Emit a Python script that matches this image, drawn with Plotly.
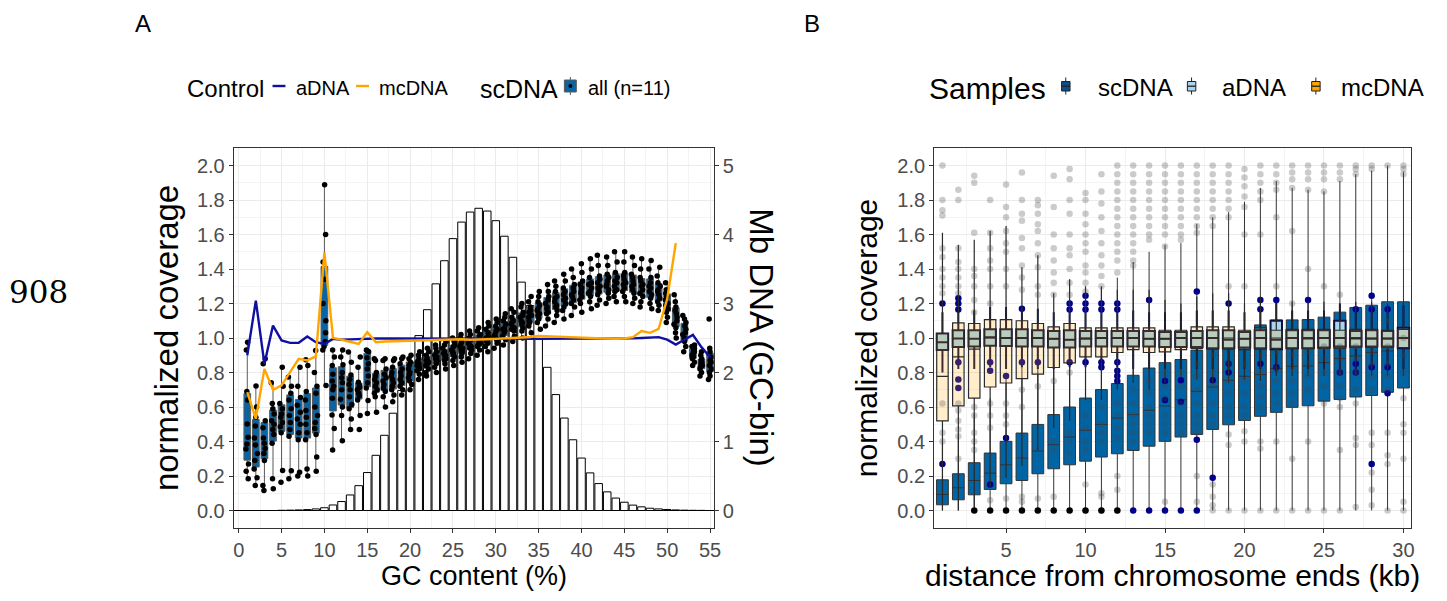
import plotly.graph_objects as go

# page body has an 8px margin; the figure is sized to fit the 1447x601 window
OX, OY = 8, 8
W, H = 1447 - 2 * OX, 601 - 2 * OY

# ---------------- Panel A data ----------------
gc_bins = list(range(1, 56))
hist_mb = [0, 0, 0, 0, 0.003, 0.005, 0.008, 0.013, 0.023, 0.04,
           0.08, 0.13, 0.225, 0.36, 0.55, 0.8, 1.09, 1.41, 1.74, 2.15,
           2.535, 2.91, 3.285, 3.62, 3.94, 4.18, 4.325, 4.38, 4.34, 4.2,
           3.975, 3.67, 3.31, 2.97, 2.49, 2.075, 1.68, 1.34, 1.025, 0.76,
           0.545, 0.39, 0.27, 0.18, 0.12, 0.078, 0.053, 0.033, 0.023, 0.015,
           0.008, 0.005, 0.003, 0.002, 0.0]
adna_gc = [0.9, 1.217, 0.85, 1.072, 0.986, 0.972, 0.972, 1.009, 0.976, 0.966,
           0.995, 0.99, 0.992, 0.995, 0.997, 0.997, 0.998, 0.998, 0.997, 0.996,
           0.996, 0.997, 0.998, 0.998, 0.997, 0.996, 0.997, 0.998, 0.999, 1.0,
           1.0, 0.999, 0.998, 0.996, 0.995, 0.995, 0.994, 0.994, 0.995, 0.996,
           0.997, 0.998, 0.997, 0.996, 0.996, 0.998, 1.0, 1.004, 1.005, 0.99,
           0.962, 0.99, 1.018, 0.947, 0.889]
mcdna_gc_bins = list(range(1, 52))
mcdna_gc = [0.686, 0.531, 0.821, 0.70, 0.725, 0.80, 0.879, 0.87, 0.893, 1.497,
            1.001, 0.99, 0.98, 0.966, 1.034, 0.976, 0.98, 0.982, 0.985, 0.985,
            0.986, 0.987, 0.988, 0.99, 0.99, 0.993, 0.99, 0.99, 0.993, 0.995,
            0.997, 1.0, 1.002, 1.006, 1.012, 1.01, 1.008, 1.006, 1.005, 1.005,
            1.003, 1.0, 0.997, 0.995, 0.998, 1.005, 1.04, 1.03, 1.053, 1.227,
            1.55]
sc_gc = [
    [0.184, 0.228, 0.27, 0.357, 0.386, 0.425, 0.502, 0.64, 0.69, 0.93, 0.976],
    [0.145, 0.19, 0.24, 0.29, 0.33, 0.38, 0.42, 0.49, 0.54, 0.6, 0.722],
    [0.116, 0.145, 0.29, 0.33, 0.36, 0.39, 0.42, 0.48, 0.52, 0.85, 0.879],
    [0.126, 0.184, 0.39, 0.44, 0.47, 0.5, 0.52, 0.56, 0.59, 0.62, 0.74],
    [0.164, 0.232, 0.45, 0.485, 0.51, 0.54, 0.56, 0.59, 0.62, 0.72, 0.83],
    [0.184, 0.23, 0.43, 0.47, 0.51, 0.55, 0.59, 0.64, 0.68, 0.72, 0.774],
    [0.2, 0.222, 0.41, 0.45, 0.5, 0.53, 0.57, 0.61, 0.655, 0.72, 0.83],
    [0.2, 0.24, 0.41, 0.45, 0.5, 0.54, 0.58, 0.64, 0.69, 0.84, 0.874],
    [0.228, 0.31, 0.44, 0.475, 0.51, 0.55, 0.6, 0.68, 0.72, 0.8, 0.928],
    [0.725, 0.93, 0.95, 0.98, 1.03, 1.1, 1.2, 1.34, 1.44, 1.6, 1.888],
    [0.35, 0.476, 0.553, 0.65, 0.7, 0.72, 0.75, 0.79, 0.84, 0.89, 0.93],
    [0.405, 0.55, 0.6, 0.645, 0.7, 0.74, 0.77, 0.8, 0.845, 0.89, 0.93],
    [0.47, 0.53, 0.59, 0.615, 0.66, 0.7, 0.73, 0.76, 0.785, 0.86, 0.919],
    [0.47, 0.55, 0.64, 0.665, 0.68, 0.7, 0.715, 0.725, 0.743, 0.83, 0.89],
    [0.563, 0.637, 0.71, 0.74, 0.78, 0.82, 0.85, 0.885, 0.92, 0.925, 0.93],
    [0.57, 0.66, 0.68, 0.7, 0.72, 0.74, 0.76, 0.78, 0.8, 0.87, 0.88],
    [0.6, 0.66, 0.69, 0.71, 0.73, 0.75, 0.77, 0.79, 0.82, 0.87, 0.88],
    [0.63, 0.67, 0.7, 0.72, 0.74, 0.76, 0.78, 0.8, 0.83, 0.87, 0.88],
    [0.67, 0.7, 0.72, 0.74, 0.76, 0.78, 0.8, 0.82, 0.85, 0.88, 0.89],
    [0.7, 0.73, 0.75, 0.77, 0.79, 0.8, 0.82, 0.84, 0.86, 0.88, 0.9],
    [0.76, 0.79, 0.81, 0.82, 0.83, 0.84, 0.85, 0.86, 0.88, 0.9, 0.92],
    [0.78, 0.8, 0.82, 0.84, 0.85, 0.86, 0.87, 0.88, 0.9, 0.92, 0.94],
    [0.8, 0.83, 0.85, 0.86, 0.87, 0.88, 0.89, 0.9, 0.92, 0.94, 0.96],
    [0.82, 0.85, 0.87, 0.88, 0.89, 0.9, 0.91, 0.92, 0.94, 0.96, 0.98],
    [0.84, 0.87, 0.89, 0.9, 0.91, 0.92, 0.93, 0.95, 0.96, 0.98, 1.0],
    [0.86, 0.89, 0.91, 0.92, 0.93, 0.94, 0.95, 0.97, 0.98, 1.0, 1.02],
    [0.88, 0.91, 0.93, 0.94, 0.95, 0.96, 0.97, 0.99, 1.0, 1.02, 1.04],
    [0.9, 0.93, 0.95, 0.96, 0.97, 0.98, 0.99, 1.01, 1.02, 1.04, 1.06],
    [0.92, 0.95, 0.97, 0.98, 0.99, 1.0, 1.01, 1.03, 1.05, 1.07, 1.09],
    [0.94, 0.97, 0.99, 1.0, 1.01, 1.02, 1.04, 1.05, 1.07, 1.09, 1.11],
    [0.96, 0.99, 1.01, 1.03, 1.04, 1.05, 1.06, 1.08, 1.1, 1.12, 1.14],
    [0.98, 1.01, 1.04, 1.05, 1.06, 1.08, 1.09, 1.1, 1.12, 1.15, 1.17],
    [1.0, 1.04, 1.06, 1.08, 1.09, 1.1, 1.12, 1.13, 1.15, 1.18, 1.2],
    [1.03, 1.07, 1.09, 1.1, 1.12, 1.13, 1.15, 1.16, 1.18, 1.21, 1.24],
    [1.05, 1.09, 1.11, 1.13, 1.14, 1.16, 1.17, 1.19, 1.21, 1.24, 1.27],
    [1.07, 1.11, 1.14, 1.15, 1.17, 1.18, 1.2, 1.22, 1.24, 1.27, 1.31],
    [1.09, 1.13, 1.16, 1.18, 1.19, 1.21, 1.23, 1.24, 1.27, 1.3, 1.33],
    [1.11, 1.16, 1.18, 1.2, 1.22, 1.23, 1.25, 1.27, 1.29, 1.33, 1.37],
    [1.13, 1.18, 1.2, 1.22, 1.24, 1.25, 1.27, 1.29, 1.31, 1.35, 1.4],
    [1.15, 1.2, 1.22, 1.24, 1.26, 1.27, 1.29, 1.31, 1.33, 1.38, 1.43],
    [1.17, 1.21, 1.24, 1.26, 1.27, 1.29, 1.31, 1.32, 1.35, 1.4, 1.46],
    [1.19, 1.22, 1.25, 1.27, 1.29, 1.3, 1.32, 1.34, 1.36, 1.42, 1.48],
    [1.2, 1.23, 1.26, 1.28, 1.3, 1.31, 1.33, 1.35, 1.37, 1.42, 1.47],
    [1.21, 1.24, 1.27, 1.28, 1.3, 1.32, 1.33, 1.35, 1.38, 1.44, 1.5],
    [1.21, 1.24, 1.27, 1.29, 1.31, 1.32, 1.34, 1.36, 1.38, 1.44, 1.5],
    [1.2, 1.23, 1.26, 1.28, 1.3, 1.31, 1.33, 1.35, 1.37, 1.42, 1.47],
    [1.18, 1.21, 1.24, 1.26, 1.28, 1.3, 1.31, 1.33, 1.35, 1.4, 1.46],
    [1.17, 1.2, 1.23, 1.25, 1.27, 1.29, 1.3, 1.32, 1.35, 1.4, 1.45],
    [1.16, 1.19, 1.21, 1.23, 1.25, 1.27, 1.28, 1.3, 1.32, 1.36, 1.41],
    [1.09, 1.12, 1.15, 1.17, 1.19, 1.2, 1.22, 1.24, 1.26, 1.28, 1.32],
    [1.0, 1.03, 1.06, 1.08, 1.1, 1.12, 1.14, 1.16, 1.18, 1.21, 1.25],
    [0.92, 0.95, 0.98, 1.0, 1.02, 1.03, 1.05, 1.07, 1.09, 1.11, 1.13],
    [0.84, 0.86, 0.88, 0.89, 0.9, 0.91, 0.92, 0.93, 0.94, 0.95, 0.96],
    [0.78, 0.8, 0.82, 0.83, 0.84, 0.85, 0.86, 0.87, 0.88, 0.9, 0.92],
    [0.76, 0.78, 0.8, 0.82, 0.84, 0.86, 0.87, 0.89, 0.92, 0.94, 1.11],
]

# ---------------- Panel B data ----------------
kb = list(range(1, 31))
sc_q1 = [0.033, 0.062, 0.091, 0.122, 0.155, 0.174, 0.213, 0.242, 0.265, 0.286,
         0.31, 0.329, 0.348, 0.373, 0.401, 0.426, 0.441, 0.47, 0.497, 0.522,
         0.546, 0.569, 0.598, 0.607, 0.634, 0.644, 0.658, 0.667, 0.685, 0.71]
sc_med = [0.093, 0.132, 0.174, 0.217, 0.265, 0.304, 0.345, 0.381, 0.426, 0.465,
          0.499, 0.536, 0.556, 0.581, 0.606, 0.642, 0.691, 0.716, 0.755, 0.778,
          0.788, 0.823, 0.836, 0.838, 0.857, 0.881, 0.896, 0.916, 0.925, 0.95]
sc_q3 = [0.178, 0.213, 0.277, 0.333, 0.401, 0.449, 0.499, 0.556, 0.6, 0.652,
         0.701, 0.736, 0.784, 0.826, 0.857, 0.875, 0.93, 0.96, 0.99, 1.03,
         1.076, 1.105, 1.105, 1.107, 1.121, 1.15, 1.177, 1.19, 1.21, 1.21]
sc_lo = [0.0] * 30
sc_hi = [0.4, 0.44, 0.56, 0.65, 0.77, 0.86, 0.93, 1.03, 1.1, 1.2,
         1.29, 1.35, 1.44, 1.5, 1.54, 1.55, 1.66, 1.7, 1.73, 1.79,
         1.87, 1.91, 1.87, 1.86, 1.85, 1.91, 1.95, 1.97, 2.0, 1.96]

ad_q1 = [0.93, 0.948, 0.95, 0.955, 0.953, 0.95, 0.95, 0.945, 0.945, 0.95,
         0.95, 0.95, 0.95, 0.95, 0.948, 0.948, 0.948, 0.94, 0.94, 0.945,
         0.94, 0.935, 0.94, 0.94, 0.945, 0.95, 0.95, 0.95, 0.95, 0.94]
ad_med = [0.975, 0.997, 0.995, 1.005, 1.0, 1.0, 1.0, 0.995, 0.99, 0.995,
          1.0, 1.0, 1.0, 0.995, 0.995, 1.0, 1.0, 1.0, 0.99, 0.995,
          1.0, 0.99, 1.0, 1.0, 1.0, 1.0, 1.0, 0.995, 0.995, 1.0]
ad_q3 = [1.026, 1.045, 1.045, 1.05, 1.05, 1.05, 1.045, 1.04, 1.045, 1.04,
         1.04, 1.04, 1.04, 1.04, 1.035, 1.035, 1.04, 1.045, 1.045, 1.035,
         1.045, 1.1, 1.045, 1.045, 1.045, 1.1, 1.04, 1.045, 1.04, 1.06]
ad_lo = [0.8, 0.82, 0.82, 0.83, 0.82, 0.83, 0.82, 0.82, 0.83, 0.83,
         0.83, 0.83, 0.82, 0.82, 0.82, 0.82, 0.82, 0.82, 0.82, 0.82,
         0.82, 0.8, 0.82, 0.82, 0.82, 0.82, 0.82, 0.82, 0.82, 0.82]
ad_hi = [1.15, 1.16, 1.16, 1.18, 1.18, 1.17, 1.17, 1.15, 1.16, 1.16,
         1.16, 1.16, 1.16, 1.15, 1.15, 1.15, 1.16, 1.16, 1.16, 1.15,
         1.16, 1.22, 1.16, 1.16, 1.16, 1.2, 1.16, 1.16, 1.16, 1.19]

mc_q1 = [0.519, 0.606, 0.652, 0.716, 0.739, 0.765, 0.79, 0.829, 0.856, 0.89,
         0.89, 0.916, 0.933, 0.916, 0.92, 0.933, 0.939, 0.935, 0.935, 0.933,
         0.935, 0.94, 0.94, 0.94, 0.94, 0.94, 0.945, 0.945, 0.945, 0.945]
mc_med = [0.778, 0.89, 0.935, 1.0, 1.0, 1.0, 1.0, 0.995, 0.99, 1.0,
          1.0, 1.0, 1.0, 0.995, 0.995, 1.0, 1.0, 1.0, 1.0, 0.995,
          1.0, 1.0, 1.0, 0.995, 1.0, 1.0, 0.995, 1.0, 1.0, 1.0]
mc_q3 = [1.026, 1.088, 1.084, 1.107, 1.107, 1.1, 1.084, 1.065, 1.084, 1.059,
         1.059, 1.059, 1.059, 1.059, 1.045, 1.045, 1.065, 1.065, 1.065, 1.045,
         1.06, 1.045, 1.05, 1.05, 1.05, 1.045, 1.05, 1.05, 1.045, 1.05]
mc_lo = [0.0, 0.0, 0.02, 0.13, 0.19, 0.26, 0.35, 0.48, 0.52, 0.64,
         0.64, 0.7, 0.74, 0.7, 0.74, 0.77, 0.76, 0.74, 0.74, 0.76,
         0.75, 0.78, 0.78, 0.78, 0.78, 0.78, 0.78, 0.78, 0.78, 0.78]
mc_hi = [1.61, 1.54, 1.57, 1.62, 1.65, 1.41, 1.48, 1.26, 1.34, 1.3,
         1.3, 1.28, 1.28, 1.28, 1.22, 1.2, 1.24, 1.26, 1.26, 1.2,
         1.24, 1.2, 1.21, 1.21, 1.21, 1.2, 1.21, 1.21, 1.2, 1.21]

gray_pts = [
    [2.0, 1.8, 1.74, 1.71, 1.52, 1.47, 1.4, 1.35, 1.3, 1.26, 0.62, 0.45, 0.4],
    [1.86, 1.8, 1.52, 1.44, 1.4, 1.35, 1.3, 1.26, 0.62, 0.58, 0.52, 0.47, 0.43, 0.3],
    [1.94, 1.9, 1.61, 1.4, 1.36, 1.3, 1.22, 1.15, 0.6, 0.55, 0.45, 0.4, 0.35],
    [1.8, 1.61, 1.52, 1.45, 1.4, 1.3, 1.2, 0.62, 0.55, 0.48, 0.06],
    [1.89, 1.76, 1.7, 1.62, 1.55, 1.5, 1.4, 1.3, 0.62, 0.55, 0.5, 0.07],
    [1.96, 1.8, 1.72, 1.68, 1.58, 1.52, 1.42, 1.35, 1.28, 0.7, 0.6, 0.08, 0.05],
    [1.8, 1.77, 1.72, 1.66, 1.62, 1.55, 1.48, 1.41, 1.3, 1.25, 0.72, 0.07],
    [1.94, 1.76, 1.6, 1.52, 1.45, 1.38, 1.32, 1.25, 0.75, 0.4, 0.35, 0.08],
    [1.98, 1.92, 1.8, 1.72, 1.6, 1.52, 1.48, 1.4, 1.32, 1.25, 0.8, 0.45, 0.4, 0.33],
    [1.84, 1.8, 1.72, 1.66, 1.6, 1.55, 1.5, 1.42, 1.38, 1.32, 1.27, 0.55, 0.48, 0.4, 0.35, 0.15, 0.0],
    [1.95, 1.85, 1.78, 1.7, 1.62, 1.55, 1.48, 1.42, 1.36, 1.3, 0.6, 0.5, 0.45, 0.4, 0.1, 0.08, 0.0],
    [2.0, 1.95, 1.9, 1.85, 1.8, 1.75, 1.7, 1.65, 1.6, 1.55, 1.5, 1.45, 1.38, 0.62, 0.55, 0.48, 0.42, 0.2, 0.12, 0.0],
    [2.0, 1.95, 1.9, 1.85, 1.8, 1.75, 1.7, 1.65, 1.6, 1.55, 1.5, 1.45, 1.42, 0.7, 0.62, 0.55, 0.5, 0.45, 0.4],
    [2.0, 1.95, 1.9, 1.85, 1.8, 1.75, 1.7, 1.65, 1.6, 1.57, 0.75, 0.68, 0.6, 0.55, 0.5, 0.45],
    [2.0, 1.95, 1.9, 1.85, 1.8, 1.75, 1.7, 1.65, 1.6, 1.53, 0.8, 0.72, 0.65, 0.55, 0.5, 0.45, 0.05],
    [2.0, 1.95, 1.9, 1.85, 1.8, 1.75, 1.7, 1.65, 1.6, 1.57, 0.8, 0.72, 0.62, 0.55, 0.5, 0.45],
    [2.0, 1.95, 1.9, 1.85, 1.8, 1.75, 1.7, 1.65, 1.61, 0.85, 0.78, 0.7, 0.62, 0.55, 0.5, 0.45, 0.2, 0.05],
    [2.0, 1.95, 1.9, 1.85, 1.8, 1.75, 1.7, 1.65, 0.9, 0.8, 0.72, 0.62, 0.55, 0.5, 0.15, 0.08, 0.03, 0.0],
    [2.0, 1.95, 1.9, 1.85, 1.8, 1.75, 1.7, 1.3, 0.85, 0.75, 0.68, 0.6, 0.55, 0.44, 0.38, 0.0],
    [1.98, 1.93, 1.88, 1.82, 1.76, 1.6, 1.3, 0.85, 0.75, 0.68, 0.6, 0.55, 0.46, 0.4, 0.0],
    [2.0, 1.95, 1.9, 1.85, 1.8, 1.6, 0.9, 0.8, 0.72, 0.66, 0.6, 0.4, 0.36, 0.0],
    [2.0, 1.95, 1.9, 1.86, 1.7, 1.3, 0.92, 0.82, 0.75, 0.68, 0.62, 0.4, 0.0],
    [2.0, 1.96, 1.92, 1.87, 1.62, 1.2, 0.9, 0.82, 0.75, 0.68, 0.62, 0.3, 0.0],
    [2.0, 1.96, 1.92, 1.86, 1.4, 0.92, 0.85, 0.78, 0.7, 0.4, 0.0],
    [2.0, 1.96, 1.92, 1.85, 1.3, 0.95, 0.88, 0.8, 0.72, 0.62, 0.0],
    [2.0, 1.96, 1.92, 1.25, 0.95, 0.88, 0.8, 0.72, 0.65, 0.6, 0.35, 0.0],
    [2.0, 1.98, 1.95, 0.95, 0.88, 0.8, 0.7, 0.62, 0.42, 0.38, 0.02],
    [2.0, 1.98, 0.92, 0.85, 0.78, 0.7, 0.45, 0.38, 0.22, 0.12, 0.03],
    [2.0, 1.1, 0.95, 0.85, 0.78, 0.7, 0.45, 0.32, 0.27, 0.0],
    [2.0, 1.98, 1.95, 1.0, 0.9, 0.8, 0.65, 0.5, 0.45, 0.3, 0.05, 0.0],
]
navy_pts = [
    [1.2, 0.27], [1.23, 1.2, 1.165, 0.86, 0.76, 0.71], [], [0.86, 0.81, 0.15],
    [0.78, 0.42], [1.17, 0.86], [0.86], [], [1.2, 1.165, 0.86],
    [1.245, 1.2, 1.165, 0.86], [1.2, 1.165, 0.86, 0.83],
    [1.2, 1.165, 0.86, 0.81, 0.78, 0.75], [0.0], [1.22, 0.0], [0.75, 0.64, 0.0],
    [0.755, 0.63, 0.0], [1.27, 0.41, 0.0], [0.755, 0.19], [1.2, 0.85, 0.8], [],
    [1.22, 1.167, 0.85], [1.22, 0.83], [], [1.22], [], [0.8],
    [1.167, 0.85, 0.8], [1.245, 1.167, 0.83, 0.27], [1.167, 0.83, 0.68], [],
]
black_pts = [[], [], [0.0], [0.0], [0.0], [0.0], [0.0], [0.0], [0.0], [0.0],
             [0.0], [0.0], [], [], [], [], [], [], [], [],
             [], [], [], [], [], [], [], [], [], []]

# ---------------- helpers ----------------
FONT = "Liberation Sans, Arial, sans-serif"
def px(x):
    return (x - OX) / W
def py(y):
    return 1 - (y - OY) / H

def flat(xs, lists):
    fx, fy = [], []
    for x, vals in zip(xs, lists):
        for v in vals:
            fx.append(x)
            fy.append(v)
    return fx, fy

fig = go.Figure()

# ---- Panel A ----
fig.add_trace(go.Bar(x=gc_bins, y=hist_mb, width=0.88, xaxis="x", yaxis="y",
                     marker=dict(color="white", line=dict(color="black", width=1)),
                     showlegend=False))
ax, ay = flat(gc_bins, sc_gc)
fig.add_trace(go.Box(x=ax, y=ay, xaxis="x", yaxis="y2", width=0.78,
                     boxpoints="all", jitter=0.55, pointpos=0, whiskerwidth=0,
                     fillcolor="#0a64a4", line=dict(color="#5a5a5a", width=1),
                     marker=dict(color="black", size=5.5), showlegend=False))
fig.add_trace(go.Scatter(x=gc_bins, y=adna_gc, xaxis="x", yaxis="y2", mode="lines",
                         line=dict(color="#1010a0", width=2.4), showlegend=False))
fig.add_trace(go.Scatter(x=mcdna_gc_bins, y=mcdna_gc, xaxis="x", yaxis="y2", mode="lines",
                         line=dict(color="#ffa500", width=2.4), showlegend=False))

# ---- Panel B ----
fig.add_trace(go.Box(x=kb, q1=sc_q1, median=sc_med, q3=sc_q3, lowerfence=sc_lo,
                     upperfence=sc_hi, xaxis="x2", yaxis="y3", width=0.74,
                     whiskerwidth=0, boxpoints=False, fillcolor="#0064a5",
                     line=dict(color="#333333", width=1), showlegend=False))
fig.add_trace(go.Box(x=kb, q1=ad_q1, median=ad_med, q3=ad_q3, lowerfence=ad_lo,
                     upperfence=ad_hi, xaxis="x2", yaxis="y3", width=0.72,
                     whiskerwidth=0, boxpoints=False, fillcolor="#a9d6ee",
                     line=dict(color="#10103a", width=2), showlegend=False))
nx, ny = flat(kb, navy_pts)
fig.add_trace(go.Box(x=nx, y=ny, xaxis="x2", yaxis="y3", width=0.01,
                     boxpoints="all", jitter=0, pointpos=0, whiskerwidth=0,
                     fillcolor="rgba(0,0,0,0)", line=dict(color="rgba(0,0,0,0)", width=0),
                     marker=dict(color="#00008b", size=6.5), showlegend=False))
fig.add_trace(go.Box(x=kb, q1=mc_q1, median=mc_med, q3=mc_q3, lowerfence=mc_lo,
                     upperfence=mc_hi, xaxis="x2", yaxis="y3", width=0.72,
                     whiskerwidth=0, boxpoints=False, fillcolor="rgba(255,165,0,0.2)",
                     line=dict(color="#2a2a2a", width=1.2), showlegend=False))
gx, gy = flat(kb, gray_pts)
fig.add_trace(go.Scatter(x=gx, y=gy, xaxis="x2", yaxis="y3", mode="markers",
                         marker=dict(color="rgba(70,70,70,0.28)", size=6.5),
                         showlegend=False))
bx, by = flat(kb, black_pts)
fig.add_trace(go.Scatter(x=bx, y=by, xaxis="x2", yaxis="y3", mode="markers",
                         marker=dict(color="black", size=6.5), showlegend=False))

# ---------------- layout ----------------
ydom = [py(527.75), py(148.25)]
tickfont = dict(family=FONT, size=20, color="#4d4d4d")
grid = dict(showgrid=True, gridcolor="#ebebeb", gridwidth=1.3)
frame = dict(showline=True, mirror=True, linecolor="#333333", linewidth=1,
             ticks="outside", ticklen=4, tickwidth=1, tickcolor="#333333",
             zeroline=False, tickfont=tickfont)

fig.update_layout(
    width=W, height=H, margin=dict(l=0, r=0, t=0, b=0),
    paper_bgcolor="white", plot_bgcolor="white", boxmode="overlay", barmode="overlay",
    showlegend=False,
    xaxis=dict(domain=[px(234), px(716.7)], range=[-0.58, 55.43], anchor="y",
               tickmode="array", tickvals=list(range(0, 60, 5)),
               minor=dict(tickmode="linear", tick0=0, dtick=2.5, showgrid=True,
                          gridcolor="#f4f4f4", gridwidth=0.7, ticks=""),
               **grid, **frame),
    yaxis=dict(domain=ydom, range=[-0.25, 5.25], anchor="x", side="right",
               tickmode="array", tickvals=[0, 1, 2, 3, 4, 5], showgrid=False,
               showline=True, mirror=True, linecolor="#333333", linewidth=1,
               ticks="outside", ticklen=4, tickwidth=1, tickcolor="#333333",
               zeroline=True, zerolinecolor="black", zerolinewidth=1.2,
               tickfont=tickfont),
    yaxis2=dict(range=[-0.1, 2.1], overlaying="y", side="left", anchor="x",
                tickmode="array", tickvals=[i / 5 for i in range(11)], tickformat=".1f",
                minor=dict(tickmode="linear", tick0=0, dtick=0.1, showgrid=True,
                           gridcolor="#f4f4f4", gridwidth=0.7, ticks=""),
                **grid, **frame),
    xaxis2=dict(domain=[px(938.3), px(1418.3)], range=[0.475, 30.5], anchor="y3",
                tickmode="array", tickvals=[5, 10, 15, 20, 25, 30],
                minor=dict(tickmode="linear", tick0=0, dtick=2.5, showgrid=True,
                           gridcolor="#f4f4f4", gridwidth=0.7, ticks=""),
                **grid, **frame),
    yaxis3=dict(domain=ydom, range=[-0.1, 2.1], anchor="x2",
                tickmode="array", tickvals=[i / 5 for i in range(11)], tickformat=".1f",
                minor=dict(tickmode="linear", tick0=0, dtick=0.1, showgrid=True,
                           gridcolor="#f4f4f4", gridwidth=0.7, ticks=""),
                **grid, **frame),
)

ann = []
def text(x, y, s, size, color="black", xanchor="left", angle=0, family=FONT, yanchor="middle"):
    ann.append(dict(x=px(x), y=py(y), xref="paper", yref="paper", text=s,
                    showarrow=False, xanchor=xanchor, yanchor=yanchor,
                    textangle=angle, font=dict(family=family, size=size, color=color)))

text(38, 292, "908", 31, xanchor="center", family="DejaVu Serif, serif")
text(143, 8.5, "A", 24, xanchor="center", yanchor="top")
text(816, 8.5, "B", 24, xanchor="center", yanchor="top")
# axis titles
text(166, 338, "normalized coverage", 33, xanchor="center", angle=-90)
text(765, 338, "Mb DNA (GC-bin)", 33, xanchor="center", angle=90)
text(476, 576, "GC content (%)", 27, xanchor="center")
text(870, 338, "normalized coverage", 30, xanchor="center", angle=-90)
text(1178, 575, "distance from chromosome ends (kb)", 30, xanchor="center")
# legend A
text(185, 89, "Control", 24)
text(295, 88, "aDNA", 20)
text(378, 88, "mcDNA", 20)
text(480, 89, "scDNA", 25)
text(588, 88, "all (n=11)", 20)
# legend B
text(931, 89, "Samples", 30)
text(1101, 88, "scDNA", 24)
text(1226, 88, "aDNA", 24)
text(1345, 88, "mcDNA", 24)

shapes = []
def line(x0, y0, x1, y1, color, width):
    shapes.append(dict(type="line", xref="paper", yref="paper", x0=px(x0), y0=py(y0),
                       x1=px(x1), y1=py(y1), line=dict(color=color, width=width)))
def rect(x0, y0, x1, y1, fill, color, width):
    shapes.append(dict(type="rect", xref="paper", yref="paper", x0=px(x0), y0=py(y0),
                       x1=px(x1), y1=py(y1), fillcolor=fill, line=dict(color=color, width=width)))

line(273, 86, 286, 86, "#1010a0", 2.4)
line(357, 86, 370, 86, "#ffa500", 2.4)
# scDNA key (panel A)
line(572.5, 77, 572.5, 95, "#5a5a5a", 1)
rect(566.5, 80, 578.5, 92, "#0a64a4", "#5a5a5a", 1)
shapes.append(dict(type="circle", xref="paper", yref="paper", x0=px(570.5), y0=py(84),
                   x1=px(574.5), y1=py(88), fillcolor="black", line=dict(color="black", width=0)))
# keys panel B
for x0, fill in [(1066.5, "#0b4f8a"), (1193, "#a9d6ee"), (1318, "#ffa500")]:
    line(x0 + 4.2, 77.5, x0 + 4.2, 94.5, "#222222", 1)
    rect(x0, 81.5, x0 + 8.5, 91, fill, "#222222", 1)
    line(x0, 86.2, x0 + 8.5, 86.2, "#222222", 1.3)

fig.update_layout(annotations=ann, shapes=shapes)
fig.write_html("out.html")
